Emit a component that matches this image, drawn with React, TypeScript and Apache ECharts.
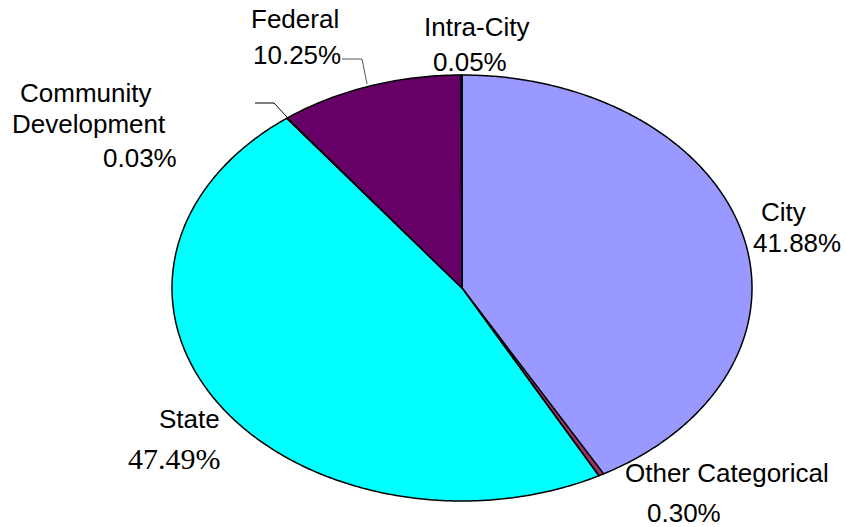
import React, { useEffect, useRef } from "react";
import * as echarts from "echarts";

// Data (clockwise from 12 o'clock)
const categories = ["City", "Other Categorical", "State", "Community Development", "Federal", "Intra-City"];
const labelNames = ["City", "Other Categorical", "State", "Community\nDevelopment", "Federal", "Intra-City"];
const shares = [41.88, 0.3, 47.49, 0.03, 10.25, 0.05];

// Styles / layout (not data)
const sliceColors = ["#9999FF", "#993366", "#00FFFF", "#FFFFCC", "#660066", "#FF8080"];
// per-category label line anchors: [left x, middle y] for each name line then the percent line
const labelAnchors: number[][][] = [
  [[761, 212], [753, 243]],
  [[625, 473], [647, 513]],
  [[159, 419], [128, 458]],
  [[20, 93], [12, 124], [103, 158]],
  [[251, 19], [253, 55]],
  [[424, 27], [433, 62]],
];
const serifPercent = [false, false, true, false, false, false];
const SANS = "Liberation Sans";
const SERIF = "Liberation Serif";

const CX = 462;
const CY = 288;
const RX = 290;
const RY = 213;

export default function App() {
  const ref = useRef<HTMLDivElement>(null);
  useEffect(() => {
    if (!ref.current) return;
    const chart = echarts.init(ref.current, null, { renderer: "svg" });
    const total = shares.reduce((a, b) => a + b, 0);
    const starts: number[] = [];
    let acc = 0;
    shares.forEach((v) => {
      starts.push(acc);
      acc += v;
    });

    const textEl = (txt: string, x: number, y: number, serif: boolean) => ({
      type: "text",
      x,
      y,
      z: 20,
      style: {
        text: txt,
        fill: "#000",
        fontSize: serif ? 30 : 26,
        fontFamily: serif ? SERIF : SANS,
        textAlign: "left",
        textVerticalAlign: "middle",
      },
    });

    const labelGraphics: any[] = [];
    shares.forEach((v, i) => {
      const lines = labelNames[i].split("\n");
      const anchors = labelAnchors[i];
      lines.forEach((ln, k) => labelGraphics.push(textEl(ln, anchors[k][0], anchors[k][1], false)));
      const pa = anchors[lines.length];
      labelGraphics.push(textEl(v.toFixed(2) + "%", pa[0], pa[1], serifPercent[i]));
    });

    const renderItem = (params: any, api: any) => {
      const i = params.dataIndex;
      const v = api.value(0);
      const a0 = (starts[i] / total) * Math.PI * 2;
      const a1 = ((starts[i] + v) / total) * Math.PI * 2;
      const pts: number[][] = [[CX, CY]];
      const steps = Math.max(2, Math.ceil(((a1 - a0) * 180) / Math.PI / 0.5));
      for (let k = 0; k <= steps; k++) {
        const t = a0 + ((a1 - a0) * k) / steps;
        pts.push([CX + RX * Math.sin(t), CY - RY * Math.cos(t)]);
      }
      return {
        type: "polygon",
        shape: { points: pts },
        style: { fill: sliceColors[i], stroke: "#000", lineWidth: 1.5, lineJoin: "round" },
      };
    };

    chart.setOption({
      animation: false,
      backgroundColor: "#ffffff",
      series: [
        {
          type: "custom",
          coordinateSystem: "none",
          renderItem,
          data: shares.map((v, i) => ({ value: [v], name: categories[i] })),
        },
      ],
      graphic: [
        ...labelGraphics,
        {
          type: "polyline",
          shape: { points: [[342, 59], [362, 59], [367, 84]] },
          style: { stroke: "#555", lineWidth: 1, fill: null },
          z: 10,
        },
        {
          type: "polyline",
          shape: { points: [[255, 103], [274, 103], [287, 117]] },
          style: { stroke: "#000", lineWidth: 1, fill: null },
          z: 10,
        },
      ],
    });
    return () => chart.dispose();
  }, []);
  return (
    <div
      ref={ref}
      style={{ position: "absolute", left: 0, top: 0, width: 846, height: 527 }}
    />
  );
}
